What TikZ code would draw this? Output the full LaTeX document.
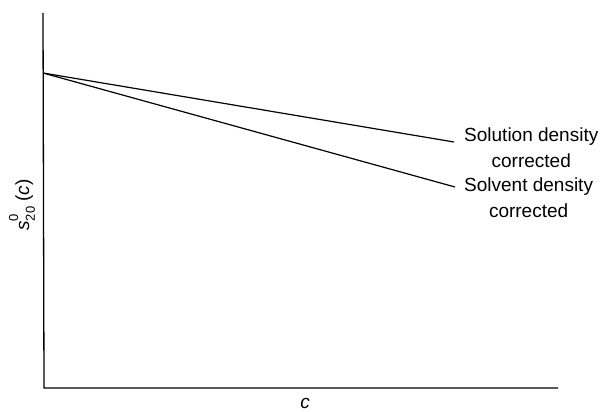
\documentclass[tikz,border=0pt]{standalone}
\usepackage{fontspec}
\setmainfont{Liberation Sans}
\usetikzlibrary{positioning}
\begin{document}
\begin{tikzpicture}[x=1pt,y=-1pt,font=\fontsize{19}{25.5}\selectfont]
\tikzstyle{ax}=[line width=1.3pt]
\tikzstyle{trend}=[line width=1.2pt]
\tikzstyle{lab}=[align=center,inner sep=0pt,anchor=base west]
\useasboundingbox (0,0) rectangle (613,412);
\coordinate (ytop) at (43,13);
\coordinate (origin) at (44,388);
\coordinate (xend) at (558,388);
\draw[ax] (ytop) -- (origin) -- (xend);
\coordinate (s0) at (43,73);
\node[lab] (solution) at (464,167) {Solution density\\corrected};
\node[lab] (solvent) at (464,217) {Solvent density\\corrected};
\coordinate (solutionend) at (454,142);
\coordinate (solventend) at (455,187);
\draw[trend] (s0) -- (solutionend);
\draw[trend] (s0) -- (solventend);
\node (ylab) at (22,205) [rotate=90] {\textit{s}\makebox[0pt][l]{\raisebox{1.1ex}{\fontsize{13}{13}\selectfont 0}}\raisebox{-0.55ex}{\fontsize{13}{13}\selectfont 20}\ (\textit{c})};
\node (xlab) at (305,403) {\textit{c}};
\end{tikzpicture}
\end{document}
